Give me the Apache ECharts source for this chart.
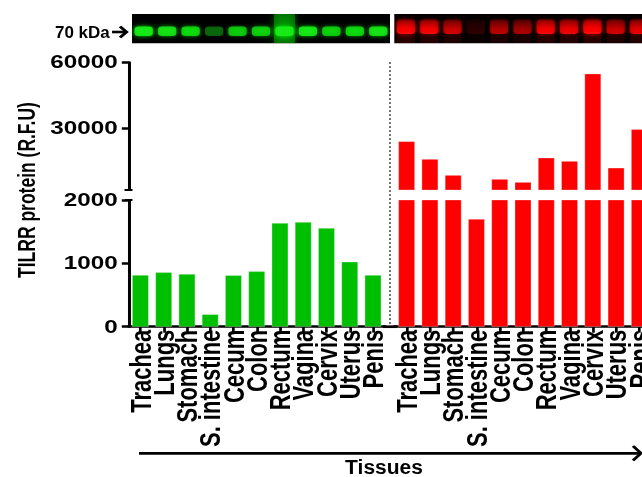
<!DOCTYPE html>
<html><head><meta charset="utf-8">
<script src="https://cdn.jsdelivr.net/npm/echarts@6/dist/echarts.min.js"></script>
<style>
html,body{margin:0;padding:0;background:#fff;overflow:hidden;width:642px;height:477px}
#c{width:476px;height:477px;transform:scaleX(1.348739);transform-origin:0 0}
</style></head><body><div id="c"></div>
<script>
// ---- data ----
const categories = ['Trachea','Lungs','Stomach','S. intestine','Cecum','Colon','Rectum','Vagina','Cervix','Uterus','Penis'];
const greenValues = [815, 858, 831, 196, 811, 874, 1636, 1651, 1557, 1025, 815];
const redValues = [24100, 16050, 8770, 1700, 6950, 5590, 16640, 15140, 54800, 12090, 29550];
const greenBlot = [0.95, 0.85, 0.8, 0.35, 0.7, 0.75, 1.3, 0.9, 0.75, 0.8, 0.85];
const redBlot = [0.95, 0.9, 0.7, 0.15, 0.6, 0.55, 0.9, 0.85, 1.0, 0.7, 0.8];
const upperTicks = [30000, 60000];
const upperRange = [2000, 60000];
const lowerRange = [0, 2000];
const lowerInterval = 1000;

// ---- layout (reference px; horizontal stretched by S via CSS) ----
const S = 642 / 476;
const px = v => v / S;
const FONT = '"Liberation Sans", Arial, Helvetica, sans-serif';
const GREEN = '#00bf00', RED = '#ff0000';
const L0 = 128.8, L1 = 384.6, R0 = 395, R1 = 651;
const TOP_T = 62.3, TOP_B = 190, BOT_T = 200, BOT_B = 326.7;

function grid(l, r, t, b, extra) {
  return Object.assign({left: px(l), width: px(r - l), top: t, height: b - t,
    containLabel: false, outerBoundsMode: 'none'}, extra || {});
}
const hiddenCat = gi => ({type: 'category', gridIndex: gi, data: categories, show: false,
  axisLine: {show: false}, axisTick: {show: false}, axisLabel: {show: false}});
const shownCat = gi => ({type: 'category', gridIndex: gi, data: categories,
  axisLine: {show: true, onZero: false, lineStyle: {color: '#000', width: 2.7}},
  axisTick: {show: true, alignWithLabel: true, length: 6, lineStyle: {color: '#000', width: px(2.7)}},
  axisLabel: {show: true, interval: 0, rotate: 90, margin: 3, color: '#000',
    fontFamily: FONT, fontWeight: 'bold', fontSize: 22}});
const yLabel = {color: '#000', fontFamily: FONT, fontWeight: 'bold', fontSize: 18, margin: px(11),
  formatter: v => String(v)};

function blotRender(kind) {
  return function (params, api) {
    const i = api.value(0), v = api.value(1);
    const cs = params.coordSys;
    const cx = api.coord([i, 0])[0];
    const bw = api.size([1, 0])[0] * 0.78;
    const children = [];
    const a = Math.min(v, 1);
    if (kind === 'g') {
      if (v > 1) {
        children.push({type: 'rect', shape: {x: cx - bw / 2 - 1, y: cs.y, width: bw + 2, height: cs.height},
          style: {fill: 'rgba(0,230,0,' + (0.55 * (v - 0.6)) + ')', shadowBlur: 6, shadowColor: 'rgba(0,255,0,0.8)'}});
      }
      children.push({type: 'rect', shape: {x: cx - bw / 2, y: cs.y + 12.5, width: bw, height: 9.5, r: 3},
        style: {fill: 'rgba(20,235,20,' + a + ')', shadowBlur: 5 * a, shadowColor: 'rgba(0,255,0,' + a + ')'}});
    } else {
      children.push({type: 'rect', shape: {x: cx - bw / 2, y: cs.y + 21, width: bw, height: 8},
        style: {fill: 'rgba(110,0,0,' + (0.35 * a) + ')'}});
      children.push({type: 'rect', shape: {x: cx - bw / 2, y: cs.y + 5.5, width: bw, height: 14.5, r: 3},
        style: {fill: {type: 'linear', x: 0, y: 0, x2: 0, y2: 1, colorStops: [
          {offset: 0, color: 'rgba(200,0,0,' + (0.45 * a) + ')'},
          {offset: 0.6, color: 'rgba(255,0,0,' + (0.85 * a) + ')'},
          {offset: 1, color: 'rgba(255,10,10,' + a + ')'}]},
          shadowBlur: 4 * a, shadowColor: 'rgba(255,0,0,' + a + ')'}});
    }
    return {type: 'group', children: children};
  };
}

const chart = echarts.init(document.getElementById('c'), null, {renderer: 'svg', width: 476, height: 477});
chart.setOption({
  backgroundColor: '#fff',
  animation: false,
  grid: [
    grid(L0, L1, TOP_T, TOP_B),
    grid(R0, R1, TOP_T, TOP_B),
    grid(L0, L1, BOT_T, BOT_B),
    grid(R0, R1, BOT_T, BOT_B),
    grid(132, 390, 14, 43.3, {show: true, backgroundColor: '#000', borderWidth: 0}),
    grid(394.3, 650.6, 14, 43.3, {show: true, backgroundColor: '#050000', borderWidth: 0})
  ],
  xAxis: [hiddenCat(0), hiddenCat(1), shownCat(2), shownCat(3), hiddenCat(4), hiddenCat(5)],
  yAxis: [
    {type: 'value', gridIndex: 0, min: upperRange[0], max: upperRange[1],
      axisLine: {show: true, lineStyle: {color: '#000', width: px(3)}},
      axisTick: {show: true, length: px(7), customValues: upperTicks, lineStyle: {color: '#000', width: 2.5}},
      axisLabel: Object.assign({customValues: upperTicks}, yLabel),
      splitLine: {show: false}},
    {type: 'value', gridIndex: 1, min: upperRange[0], max: upperRange[1], show: false, splitLine: {show: false}},
    {type: 'value', gridIndex: 2, min: lowerRange[0], max: lowerRange[1], interval: lowerInterval,
      axisLine: {show: true, lineStyle: {color: '#000', width: px(3)}},
      axisTick: {show: true, length: px(7), lineStyle: {color: '#000', width: 2.5}},
      axisLabel: yLabel,
      splitLine: {show: false}},
    {type: 'value', gridIndex: 3, min: lowerRange[0], max: lowerRange[1], show: false, splitLine: {show: false}},
    {type: 'value', gridIndex: 4, min: 0, max: 1, show: false, splitLine: {show: false}},
    {type: 'value', gridIndex: 5, min: 0, max: 1, show: false, splitLine: {show: false}}
  ],
  series: [
    {type: 'bar', xAxisIndex: 0, yAxisIndex: 0, data: greenValues, barWidth: px(16.7), clip: true,
      itemStyle: {color: GREEN, borderColor: 'rgba(255,255,255,0.5)', borderWidth: 0.5}},
    {type: 'bar', xAxisIndex: 2, yAxisIndex: 2, data: greenValues, barWidth: px(16.7), clip: true,
      itemStyle: {color: GREEN, borderColor: 'rgba(255,255,255,0.5)', borderWidth: 0.5}},
    {type: 'bar', xAxisIndex: 1, yAxisIndex: 1, data: redValues, barWidth: px(16.7), clip: true,
      itemStyle: {color: RED, borderColor: 'rgba(255,255,255,0.5)', borderWidth: 0.5}},
    {type: 'bar', xAxisIndex: 3, yAxisIndex: 3, data: redValues, barWidth: px(16.7), clip: true,
      itemStyle: {color: RED, borderColor: 'rgba(255,255,255,0.5)', borderWidth: 0.5}},
    {type: 'custom', xAxisIndex: 4, yAxisIndex: 4, renderItem: blotRender('g'), clip: true,
      data: greenBlot.map((v, i) => [i, v])},
    {type: 'custom', xAxisIndex: 5, yAxisIndex: 5, renderItem: blotRender('r'), clip: true,
      data: redBlot.map((v, i) => [i, v])}
  ],
  graphic: [
    {type: 'text', x: px(26), y: 190, rotation: Math.PI / 2,
      style: {text: 'TILRR protein (R.F.U)', font: 'bold 17.5px ' + FONT, fill: '#000',
        align: 'center', verticalAlign: 'middle', textAlign: 'center', textVerticalAlign: 'middle'}},
    {type: 'text', x: px(55), y: 32.5, scaleX: 1 / S,
      style: {text: '70 kDa', font: 'bold 17px ' + FONT, fill: '#000',
        align: 'left', verticalAlign: 'middle', textAlign: 'left', textVerticalAlign: 'middle'}},
    {type: 'polyline', shape: {points: [[px(112), 32], [px(125.5), 32]]}, style: {stroke: '#000', lineWidth: 2.6, fill: null}},
    {type: 'polyline', shape: {points: [[px(120), 26.5], [px(126.5), 32], [px(120), 37.5]]}, style: {stroke: '#000', lineWidth: 2.6, fill: null}},
    {type: 'text', x: px(384), y: 466.5, scaleX: 1 / S,
      style: {text: 'Tissues', font: 'bold 21px ' + FONT, fill: '#000',
        align: 'center', verticalAlign: 'middle', textAlign: 'center', textVerticalAlign: 'middle'}},
    {type: 'polyline', shape: {points: [[px(139), 453.3], [px(640.5), 453.3]]}, style: {stroke: '#000', lineWidth: 2.8, fill: null}},
    {type: 'polyline', shape: {points: [[px(633), 446], [px(641), 453.3], [px(633), 460.6]]}, style: {stroke: '#000', lineWidth: 2.4, fill: null}},
    {type: 'line', shape: {x1: px(390), y1: 62, x2: px(390), y2: 325}, style: {stroke: '#333', lineWidth: 1, lineDash: [2, 2]}},
    {type: 'line', shape: {x1: px(383), y1: BOT_B, x2: px(397), y2: BOT_B}, style: {stroke: '#000', lineWidth: 2.7}},
    {type: 'line', shape: {x1: px(124.5), y1: TOP_B, x2: px(132.5), y2: TOP_B}, style: {stroke: '#000', lineWidth: 2}},
    {type: 'line', shape: {x1: px(125), y1: BOT_T, x2: px(132.5), y2: BOT_T}, style: {stroke: '#000', lineWidth: 2}}
  ]
});
</script></body></html>
